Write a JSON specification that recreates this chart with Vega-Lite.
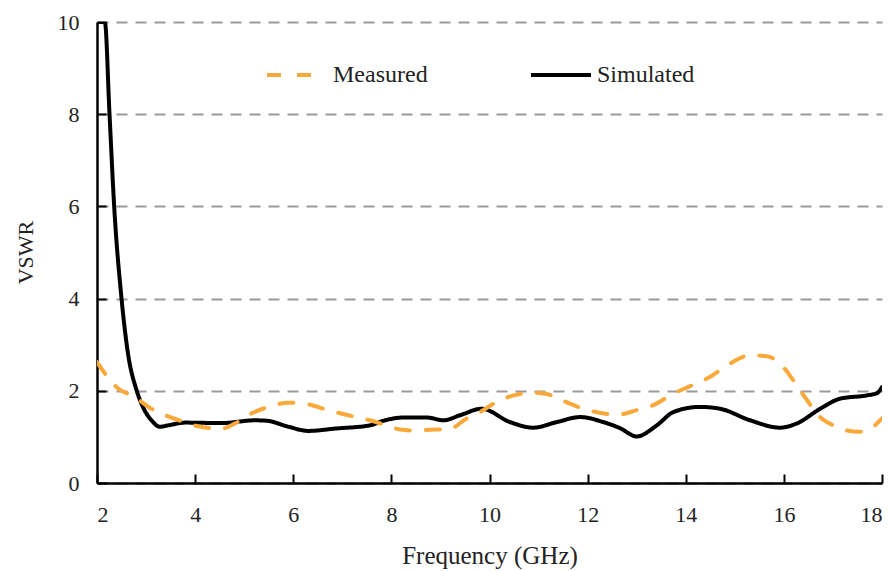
{
  "$schema": "https://vega.github.io/schema/vega-lite/v6.json",
  "width": 785,
  "height": 461,
  "autosize": {"type": "none"},
  "padding": {"left": 97, "top": 22, "right": 9, "bottom": 88},
  "background": "white",
  "config": {
    "view": {"stroke": null},
    "font": "Liberation Serif, Times New Roman, serif",
    "axis": {
      "domainColor": "black", "domainWidth": 2.5,
      "tickColor": "black", "tickWidth": 2, "tickSize": -9,
      "labelFont": "Liberation Serif, Times New Roman, serif", "labelFontSize": 22, "labelColor": "#222",
      "titleFont": "Liberation Serif, Times New Roman, serif", "titleFontWeight": "normal", "titleColor": "#222"
    },
    "legend": {"labelFont": "Liberation Serif, Times New Roman, serif"}
  },
  "datasets": {
    "curves": [
      {"s": "Simulated", "f": 2.00, "v": 10},
      {"s": "Simulated", "f": 2.16, "v": 10},
      {"s": "Simulated", "f": 2.255, "v": 8},
      {"s": "Simulated", "f": 2.35, "v": 6},
      {"s": "Simulated", "f": 2.50, "v": 4},
      {"s": "Simulated", "f": 2.63, "v": 2.82},
      {"s": "Simulated", "f": 2.81, "v": 2.0},
      {"s": "Simulated", "f": 2.94, "v": 1.64},
      {"s": "Simulated", "f": 3.11, "v": 1.36},
      {"s": "Simulated", "f": 3.28, "v": 1.22},
      {"s": "Simulated", "f": 3.45, "v": 1.25},
      {"s": "Simulated", "f": 3.79, "v": 1.31},
      {"s": "Simulated", "f": 4.54, "v": 1.30},
      {"s": "Simulated", "f": 5.22, "v": 1.36},
      {"s": "Simulated", "f": 5.46, "v": 1.35},
      {"s": "Simulated", "f": 5.90, "v": 1.22},
      {"s": "Simulated", "f": 6.31, "v": 1.13},
      {"s": "Simulated", "f": 6.85, "v": 1.18},
      {"s": "Simulated", "f": 7.56, "v": 1.25},
      {"s": "Simulated", "f": 7.84, "v": 1.35},
      {"s": "Simulated", "f": 8.24, "v": 1.42},
      {"s": "Simulated", "f": 8.72, "v": 1.42},
      {"s": "Simulated", "f": 9.06, "v": 1.36},
      {"s": "Simulated", "f": 9.40, "v": 1.47},
      {"s": "Simulated", "f": 9.84, "v": 1.61},
      {"s": "Simulated", "f": 10.42, "v": 1.32},
      {"s": "Simulated", "f": 10.89, "v": 1.20},
      {"s": "Simulated", "f": 11.37, "v": 1.32},
      {"s": "Simulated", "f": 11.85, "v": 1.43},
      {"s": "Simulated", "f": 12.32, "v": 1.32},
      {"s": "Simulated", "f": 12.66, "v": 1.19},
      {"s": "Simulated", "f": 13.00, "v": 1.01},
      {"s": "Simulated", "f": 13.41, "v": 1.25},
      {"s": "Simulated", "f": 13.75, "v": 1.54},
      {"s": "Simulated", "f": 14.29, "v": 1.65},
      {"s": "Simulated", "f": 14.70, "v": 1.61},
      {"s": "Simulated", "f": 15.31, "v": 1.36},
      {"s": "Simulated", "f": 15.92, "v": 1.20},
      {"s": "Simulated", "f": 16.26, "v": 1.29},
      {"s": "Simulated", "f": 16.74, "v": 1.61},
      {"s": "Simulated", "f": 17.15, "v": 1.83},
      {"s": "Simulated", "f": 17.69, "v": 1.90},
      {"s": "Simulated", "f": 17.90, "v": 1.95},
      {"s": "Simulated", "f": 18.00, "v": 2.08},
      {"s": "Measured", "f": 2.00, "v": 2.62},
      {"s": "Measured", "f": 2.20, "v": 2.32},
      {"s": "Measured", "f": 2.43, "v": 2.05},
      {"s": "Measured", "f": 2.77, "v": 1.87},
      {"s": "Measured", "f": 3.05, "v": 1.65},
      {"s": "Measured", "f": 3.39, "v": 1.47},
      {"s": "Measured", "f": 3.79, "v": 1.32},
      {"s": "Measured", "f": 4.06, "v": 1.23},
      {"s": "Measured", "f": 4.54, "v": 1.18},
      {"s": "Measured", "f": 4.81, "v": 1.29},
      {"s": "Measured", "f": 5.15, "v": 1.51},
      {"s": "Measured", "f": 5.49, "v": 1.65},
      {"s": "Measured", "f": 5.90, "v": 1.74},
      {"s": "Measured", "f": 6.24, "v": 1.72},
      {"s": "Measured", "f": 6.71, "v": 1.58},
      {"s": "Measured", "f": 7.12, "v": 1.47},
      {"s": "Measured", "f": 7.56, "v": 1.36},
      {"s": "Measured", "f": 7.90, "v": 1.25},
      {"s": "Measured", "f": 8.18, "v": 1.16},
      {"s": "Measured", "f": 8.45, "v": 1.14},
      {"s": "Measured", "f": 8.92, "v": 1.16},
      {"s": "Measured", "f": 9.15, "v": 1.16},
      {"s": "Measured", "f": 9.54, "v": 1.40},
      {"s": "Measured", "f": 9.81, "v": 1.54},
      {"s": "Measured", "f": 10.15, "v": 1.76},
      {"s": "Measured", "f": 10.49, "v": 1.90},
      {"s": "Measured", "f": 10.89, "v": 1.96},
      {"s": "Measured", "f": 11.17, "v": 1.93},
      {"s": "Measured", "f": 11.64, "v": 1.72},
      {"s": "Measured", "f": 11.91, "v": 1.61},
      {"s": "Measured", "f": 12.32, "v": 1.51},
      {"s": "Measured", "f": 12.59, "v": 1.48},
      {"s": "Measured", "f": 13.00, "v": 1.58},
      {"s": "Measured", "f": 13.34, "v": 1.69},
      {"s": "Measured", "f": 13.75, "v": 1.94},
      {"s": "Measured", "f": 14.09, "v": 2.10},
      {"s": "Measured", "f": 14.49, "v": 2.30},
      {"s": "Measured", "f": 14.90, "v": 2.59},
      {"s": "Measured", "f": 15.31, "v": 2.77},
      {"s": "Measured", "f": 15.65, "v": 2.75},
      {"s": "Measured", "f": 15.92, "v": 2.59},
      {"s": "Measured", "f": 16.19, "v": 2.23},
      {"s": "Measured", "f": 16.47, "v": 1.80},
      {"s": "Measured", "f": 16.74, "v": 1.43},
      {"s": "Measured", "f": 17.01, "v": 1.25},
      {"s": "Measured", "f": 17.28, "v": 1.14},
      {"s": "Measured", "f": 17.55, "v": 1.11},
      {"s": "Measured", "f": 17.82, "v": 1.22},
      {"s": "Measured", "f": 18.00, "v": 1.40}
    ]
  },
  "data": {"name": "curves"},
  "mark": {"type": "line", "interpolate": "monotone", "clip": true, "strokeWidth": 4, "strokeCap": "round"},
  "encoding": {
    "x": {
      "field": "f", "type": "quantitative",
      "scale": {"domain": [2, 18], "nice": false, "zero": false},
      "axis": {
        "title": "Frequency (GHz)", "values": [2, 4, 6, 8, 10, 12, 14, 16, 18],
        "grid": false, "labelPadding": 30, "labelBaseline": "top",
        "titleFontSize": 25, "titleY": 80, "titleBaseline": "alphabetic"
      }
    },
    "y": {
      "field": "v", "type": "quantitative",
      "scale": {"domain": [0, 10], "nice": false},
      "axis": {
        "title": "VSWR", "values": [0, 2, 4, 6, 8, 10],
        "grid": true, "gridDash": [11, 8], "gridColor": "#9a9a9a", "gridWidth": 2,
        "labelPadding": 27,
        "titleFontSize": 22, "titleX": -65, "titleY": 230, "titleAngle": -90, "titleAlign": "center", "titleBaseline": "alphabetic"
      }
    },
    "color": {
      "field": "s", "type": "nominal",
      "scale": {"domain": ["Measured", "Simulated"], "range": ["#F9A83A", "#000000"]},
      "legend": {
        "title": null, "orient": "none", "direction": "horizontal",
        "legendX": 168, "legendY": 21, "padding": 0,
        "symbolType": "stroke", "symbolSize": 3600, "symbolStrokeWidth": 4,
        "labelFont": "Liberation Serif, Times New Roman, serif", "labelFontSize": 24, "labelColor": "#222",
        "labelOffset": 4, "columnPadding": 95
      }
    },
    "strokeDash": {
      "field": "s", "type": "nominal",
      "scale": {"domain": ["Measured", "Simulated"], "range": [[14, 16], [1, 0]]},
      "legend": {
        "title": null, "orient": "none", "direction": "horizontal",
        "legendX": 168, "legendY": 21, "padding": 0,
        "symbolType": "stroke", "symbolSize": 3600, "symbolStrokeWidth": 4,
        "labelFont": "Liberation Serif, Times New Roman, serif", "labelFontSize": 24, "labelColor": "#222",
        "labelOffset": 4, "columnPadding": 95
      }
    }
  }
}
